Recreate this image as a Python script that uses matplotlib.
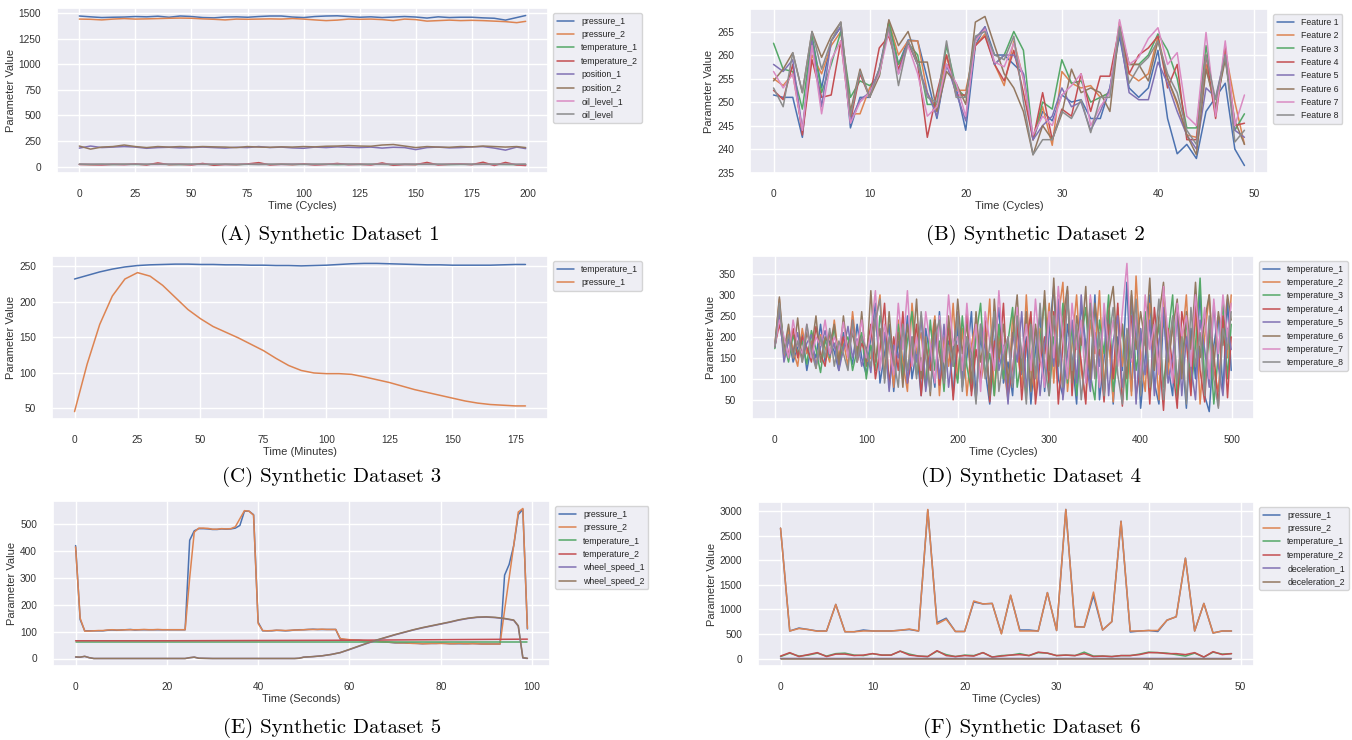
import matplotlib
matplotlib.use("Agg")
import matplotlib.pyplot as plt
import seaborn as sns

# ---- data ----

# (A) synthetic dataset 1, sampled every 5 cycles
a_x = list(range(0, 200, 5)) + [199]
a_pressure_1 = [1470, 1462, 1455, 1458, 1460, 1465, 1462, 1468, 1458, 1470,
                1465, 1455, 1452, 1460, 1462, 1458, 1465, 1470, 1470, 1460,
                1455, 1465, 1470, 1472, 1465, 1458, 1462, 1455, 1460, 1465,
                1460, 1450, 1462, 1455, 1458, 1458, 1452, 1448, 1430, 1455, 1475]
a_pressure_2 = [1440, 1438, 1432, 1440, 1445, 1440, 1442, 1445, 1448, 1450,
                1448, 1442, 1438, 1432, 1440, 1438, 1440, 1442, 1440, 1445,
                1440, 1432, 1425, 1430, 1440, 1438, 1440, 1435, 1425, 1440,
                1435, 1420, 1425, 1430, 1425, 1428, 1425, 1420, 1415, 1405, 1418]
a_temperature_1 = [22, 20, 21, 19, 22, 20, 21, 23, 20, 19, 21, 22, 20, 21, 19, 22, 20, 21, 22, 20,
                   21, 20, 22, 19, 21, 20, 22, 21, 19, 20, 21, 22, 20, 19, 21, 20, 22, 21, 20, 19, 20]
a_temperature_2 = [20, 18, 15, 22, 18, 25, 15, 35, 18, 22, 15, 30, 12, 20, 18, 25, 38, 15, 22, 18,
                   25, 15, 20, 30, 18, 22, 15, 35, 12, 20, 18, 40, 15, 22, 25, 18, 42, 10, 40, 15, 10]
a_position_1 = [180, 200, 185, 190, 195, 190, 178, 185, 188, 182, 185, 190, 185, 180, 188, 185,
                195, 185, 190, 182, 178, 190, 185, 192, 188, 185, 190, 180, 188, 185, 165, 185,
                190, 182, 185, 192, 195, 180, 160, 190, 175]
a_position_2 = [200, 170, 190, 195, 210, 195, 185, 195, 190, 195, 190, 195, 192, 190, 185, 195,
                190, 188, 192, 190, 195, 192, 198, 200, 205, 200, 198, 210, 215, 200, 185, 195,
                190, 188, 195, 192, 200, 195, 190, 195, 185]
a_oil_level_1 = [21, 22, 20, 21, 20, 22, 21, 20, 22, 21, 20, 21, 22, 20, 21, 22, 20, 21, 20, 22,
                 21, 20, 21, 22, 20, 21, 20, 22, 21, 20, 22, 21, 20, 21, 22, 20, 21, 20, 22, 21, 20]
a_oil_level = [23, 22, 23, 22, 22, 23, 22, 22, 23, 22, 23, 22, 22, 23, 22, 22, 23, 22, 22, 23,
               22, 23, 22, 22, 23, 22, 22, 23, 22, 23, 22, 22, 23, 22, 22, 23, 22, 23, 22, 22, 23]
a_labels = ["pressure_1", "pressure_2", "temperature_1", "temperature_2",
            "position_1", "position_2", "oil_level_1", "oil_level"]

# (B) synthetic dataset 2
b_x = list(range(50))
b_feature_1 = [251.5, 251, 251, 242.5, 264, 253, 263, 266, 244.5, 251, 251, 257, 267, 258, 263.2,
               263, 255, 246.5, 258, 253, 244, 262, 266, 260, 260, 258, 256, 242, 248, 246,
               251.5, 250, 250.5, 246.5, 246.5, 253, 264, 253, 251, 253, 261, 246.5, 239, 241, 238,
               248, 251, 254, 240, 236.5]
b_feature_2 = [255, 253.5, 256, 244, 260, 256, 262, 265, 247.5, 247.5, 253, 256, 267, 260, 263,
               263, 252, 248, 260, 252.5, 252.5, 262, 264.5, 258, 253.5, 263, 255, 242, 249, 240.8,
               256.5, 254, 253, 253.5, 251, 252, 267, 256, 254.5, 256, 264, 255, 249.5, 243, 242.5,
               258, 248, 261, 250, 241]
b_feature_3 = [262.5, 257, 256.5, 248.5, 264, 252, 258, 265, 251, 254.5, 253.5, 255.5, 267, 258, 262.5,
               260, 249.5, 249.5, 262, 253, 251, 263, 265.5, 258, 260, 265, 261, 242, 250, 248.5,
               259, 254, 254.5, 250, 251, 252, 266, 258, 258, 260, 264.5, 261, 255, 244.5, 244.5,
               262, 248.5, 260, 244, 247.5]
b_feature_4 = [252.5, 250.5, 258, 243, 259, 251, 251.5, 263, 246, 256, 251, 261.5, 264, 257, 262.5,
               258, 242.5, 252, 260, 251.5, 251.5, 262, 264, 258, 254.5, 261, 252, 242, 252, 242,
               248.5, 247, 256, 248, 255.5, 255.5, 266, 256, 260, 261.5, 264, 253, 258, 242, 242,
               260, 246.5, 262, 245, 245.5]
b_feature_5 = [258, 256.5, 259, 244, 263, 249, 263, 266, 246, 250.5, 252, 257, 265.5, 256, 263,
               258, 252, 247, 258, 252, 246, 263.5, 266, 258, 260, 260, 256, 242, 245, 247,
               253, 249, 250, 244, 248, 253, 265, 252, 250.5, 250.5, 258.5, 254, 248, 243, 240,
               253, 251, 260, 244, 242.5]
b_feature_6 = [254.5, 257, 260.5, 252, 265, 259.5, 264, 267, 248, 257, 251, 255.5, 267.5, 262, 265,
               258.5, 258.5, 248, 256.5, 254, 249.5, 267, 268.2, 262, 256, 253, 248, 238.8, 245, 242,
               247.5, 257, 252, 253, 252, 248, 266, 258, 258, 254.5, 263, 255, 250, 243, 238.8,
               257, 249, 259, 246, 241]
b_feature_7 = [256.5, 253, 256, 244, 262, 247.5, 259, 263, 245.5, 250, 252, 256, 265, 256, 262,
               256, 247, 249, 258, 254, 247, 263, 265.5, 258.5, 257.5, 262.5, 255, 243, 247, 245,
               251.5, 253.5, 256, 245, 249, 252, 267.5, 258, 259.5, 263.5, 265.8, 258, 260.5, 247, 245,
               264.8, 247, 263, 245, 251.5]
b_feature_8 = [253, 249, 260.5, 252, 265, 257, 263, 267, 247, 256.5, 251, 257, 266, 253.5, 263,
               258, 251, 250, 263, 251, 251, 264, 265, 260, 259, 264, 250, 238.8, 242, 242,
               248, 246.5, 250.5, 243.5, 251, 251, 266, 254, 257.5, 259.5, 263, 256, 252, 244, 241,
               260, 250.5, 260, 241.5, 244]
b_labels = ["Feature %d" % i for i in range(1, 9)]

# (C) synthetic dataset 3, sampled every 5 minutes
c_x = list(range(0, 180, 5)) + [179]
c_temperature_1 = [232, 237, 242, 246, 249, 251, 252, 252.5, 253, 253, 252.5, 252.5, 252, 252,
                   251.5, 251.5, 251, 251, 250.5, 251, 251.5, 252.5, 253.5, 254, 254, 253.5,
                   253, 252.5, 252, 252, 251.5, 251.5, 251.5, 251.5, 252, 252.5, 252.5]
c_pressure_1 = [45, 112, 168, 208, 232, 241, 236, 223, 206, 189, 176, 165, 157, 149, 140, 131,
                120, 110, 103, 99.5, 98.5, 98.5, 97.5, 94, 90, 86, 81, 76, 72, 68, 64, 60, 57,
                55, 54, 53, 53]
c_labels = ["temperature_1", "pressure_1"]

# (D) synthetic dataset 4, sampled every 5 cycles
d_x = list(range(0, 500, 5)) + [499]
d_temperature_1 = [175, 250, 160, 200, 140, 175, 205, 120, 180, 150, 230, 140, 190, 165, 120, 210, 175,
                   135, 230, 150, 110,
                   200, 280, 90, 160, 230, 70, 190, 120, 250, 100, 170, 60, 220, 150, 80, 260, 110,
                   190, 60, 230,
                   80, 150, 260, 50, 200, 120, 40, 180, 270, 90, 140, 60, 240, 110, 200, 40, 170,
                   250, 70, 210,
                   320, 100, 60, 230, 150, 40, 280, 180, 90, 300, 50, 150, 260, 40, 200, 120, 330,
                   70, 240, 30,
                   150, 300, 90, 40, 250, 130, 60, 280, 170, 30, 220, 100, 310, 60, 22, 180, 250,
                   70, 290, 120]
d_temperature_2 = [180, 290, 150, 215, 170, 130, 220, 160, 190, 125, 205, 175, 140, 240, 150, 190, 130,
                   260, 160, 200, 140,
                   150, 230, 300, 110, 190, 80, 240, 140, 70, 280, 160, 210, 90, 170, 250, 60, 200,
                   130, 280, 100,
                   220, 60, 180, 240, 90, 150, 290, 60, 200, 130, 50, 250, 170, 80, 300, 120, 60,
                   220, 160, 280,
                   90, 250, 330, 70, 180, 300, 120, 50, 240, 160, 310, 80, 200, 45, 270, 130, 210,
                   60, 345, 150,
                   70, 280, 200, 50, 320, 110, 240, 60, 180, 300, 90, 260, 40, 200, 300, 120, 70,
                   240, 150, 300]
d_temperature_3 = [172, 270, 185, 140, 205, 160, 190, 135, 215, 170, 115, 195, 150, 225, 130, 180, 200,
                   120, 170, 210, 100,
                   180, 120, 250, 200, 90, 170, 230, 100, 190, 260, 110, 150, 80, 240, 120, 190, 70,
                   230, 150, 90,
                   250, 130, 70, 200, 280, 110, 160, 60, 230, 100, 190, 270, 80, 150, 60, 240, 110,
                   190, 290, 60,
                   200, 140, 280, 90, 230, 60, 190, 270, 110, 50, 240, 160, 300, 70, 150, 230, 50,
                   290, 120, 190,
                   260, 60, 150, 230, 80, 200, 300, 50, 140, 240, 70, 180, 340, 90, 210, 40, 160,
                   280, 100, 230]
d_temperature_4 = [178, 230, 175, 160, 220, 150, 200, 175, 140, 225, 160, 130, 210, 180, 145, 200, 160,
                   240, 140, 185, 160,
                   230, 100, 170, 280, 80, 200, 120, 260, 90, 150, 230, 60, 180, 120, 240, 85, 160,
                   220, 50, 180,
                   130, 260, 60, 170, 100, 240, 45, 190, 140, 280, 60, 120, 230, 50, 180, 260, 40,
                   140, 200, 90,
                   260, 40, 180, 310, 60, 220, 140, 40, 290, 110, 170, 45, 230, 100, 280, 35, 190,
                   250, 60, 130,
                   210, 40, 270, 160, 25, 220, 130, 30, 260, 190, 60, 290, 120, 45, 230, 160, 35,
                   250, 55, 200]
d_temperature_5 = [176, 260, 140, 190, 165, 210, 145, 185, 205, 130, 175, 215, 155, 185, 120, 170, 225,
                   150, 195, 130, 175,
                   115, 260, 130, 210, 70, 180, 150, 220, 90, 200, 140, 250, 70, 160, 210, 100, 230,
                   80, 170, 260,
                   100, 200, 140, 50, 230, 170, 80, 250, 120, 180, 40, 210, 140, 260, 80, 150, 220,
                   60, 180, 250,
                   130, 290, 50, 160, 240, 90, 300, 150, 70, 210, 130, 260, 60, 190, 250, 80, 160,
                   300, 40, 220,
                   110, 240, 60, 190, 270, 90, 150, 250, 60, 200, 130, 50, 240, 170, 80, 280, 130,
                   60, 220, 170]
d_temperature_6 = [178, 295, 165, 230, 150, 245, 140, 210, 170, 250, 140, 200, 180, 230, 135, 250, 160,
                   210, 145, 260, 130,
                   310, 140, 220, 100, 260, 130, 210, 80, 230, 150, 290, 100, 200, 60, 240, 160, 90,
                   250, 130, 290,
                   160, 230, 90, 260, 140, 210, 60, 290, 150, 230, 90, 200, 300, 120, 260, 70, 230,
                   140, 310, 120,
                   340, 130, 240, 320, 90, 250, 180, 320, 100, 280, 190, 60, 260, 320, 150, 230, 100,
                   310, 170, 260,
                   180, 340, 120, 250, 330, 140, 220, 290, 100, 260, 170, 330, 150, 240, 300, 130, 260,
                   180, 300, 240]
d_temperature_7 = [180, 240, 200, 150, 240, 180, 160, 230, 150, 200, 180, 240, 160, 200, 170, 235, 150,
                   220, 180, 240, 150,
                   210, 310, 120, 230, 180, 110, 280, 170, 310, 130, 200, 120, 260, 180, 90, 250, 140,
                   300, 180, 200,
                   120, 280, 150, 230, 70, 260, 190, 120, 310, 160, 200, 90, 270, 150, 230, 120, 290,
                   160, 80, 260,
                   150, 320, 200, 100, 280, 170, 240, 90, 300, 200, 80, 280, 170, 240, 130, 260, 375,
                   140, 250, 100,
                   300, 170, 230, 110, 320, 200, 90, 280, 200, 250, 130, 300, 180, 270, 100, 290, 160,
                   300, 200, 280]
d_temperature_8 = [175, 280, 160, 205, 150, 190, 140, 230, 165, 125, 200, 150, 220, 130, 190, 160, 120,
                   240, 140, 200, 170,
                   130, 240, 290, 90, 200, 150, 80, 230, 120, 200, 100, 260, 150, 70, 200, 240, 90,
                   180, 130, 250,
                   70, 200, 160, 40, 230, 100, 180, 260, 70, 150, 200, 80, 250, 160, 40, 230, 100,
                   280, 130, 60,
                   250, 170, 80, 300, 120, 230, 50, 160, 280, 100, 210, 60, 190, 270, 110, 40, 220,
                   150, 290, 60,
                   240, 80, 180, 290, 50, 160, 250, 90, 200, 40, 270, 130, 210, 60, 250, 100, 30,
                   220, 170, 260]
d_labels = ["temperature_%d" % i for i in range(1, 9)]

# (E) synthetic dataset 5
e_x = list(range(100))
e_pressure_1 = [420, 145, 103, 103, 103, 103, 103, 105, 106, 105, 106, 107, 108, 106, 107, 107, 107,
                107, 107, 107, 107, 107, 107, 107, 107, 440, 475, 483, 483, 482, 480, 480, 482, 481,
                482, 485, 495, 548, 548, 535, 135, 103, 103, 103, 105, 104, 103, 104, 106, 107, 107,
                108, 109, 108, 108, 108, 108, 108, 72, 70, 69, 68, 68, 66, 66, 65, 64, 63, 62, 60,
                58, 58, 58, 57, 57, 56, 55, 56, 56, 56, 57, 56, 55, 55, 55, 55, 55, 56, 55, 54, 54,
                54, 54, 54, 310, 350, 420, 535, 555, 110]
e_pressure_2 = [415, 150, 102, 102, 103, 104, 104, 106, 107, 106, 106, 107, 107, 107, 107, 108, 107,
                107, 108, 107, 107, 107, 107, 107, 107, 300, 470, 485, 485, 484, 481, 481, 483, 482,
                483, 490, 520, 550, 548, 533, 130, 104, 103, 104, 105, 105, 104, 105, 106, 106, 107,
                108, 108, 108, 109, 108, 108, 108, 74, 72, 70, 69, 68, 67, 66, 65, 64, 62, 61, 60,
                59, 58, 58, 57, 56, 56, 55, 55, 56, 56, 56, 56, 55, 55, 56, 55, 55, 55, 55, 54, 54,
                54, 54, 54, 180, 300, 420, 545, 558, 112]
e_temp_x = [0, 20, 40, 60, 80, 99]
e_temperature_1 = [63, 63, 63, 63, 63, 63]
e_temperature_2 = [66, 66, 67, 68, 70, 72]
e_wheel_x = [0, 1, 2, 3, 4, 10, 20, 24, 25, 26, 27, 30, 40, 48, 49, 50, 52, 54, 56, 58, 60, 62,
             64, 66, 68, 70, 72, 74, 76, 78, 80, 82, 84, 86, 88, 90, 92, 94, 95, 96, 97, 98, 99]
e_wheel_speed_1 = [5, 5, 8, 3, 0, 0, 0, 0, 3, 5, 1, 0, 0, 0, 1, 5, 7, 10, 15, 22, 33, 45, 57, 68,
                   78, 88, 97, 106, 114, 121, 128, 135, 143, 149, 153, 154, 152, 148, 145, 142, 120, 2, 0]
e_wheel_speed_2 = [6, 5, 8, 3, 0, 0, 0, 0, 3, 5, 1, 0, 0, 0, 1, 5, 7, 10, 15, 22, 34, 46, 58, 69,
                   79, 89, 98, 107, 115, 122, 129, 136, 144, 150, 154, 155, 153, 149, 146, 143, 122, 3, 1]
e_labels = ["pressure_1", "pressure_2", "temperature_1", "temperature_2", "wheel_speed_1", "wheel_speed_2"]

# (F) synthetic dataset 6
f_x = list(range(50))
f_pressure_1 = [2650, 560, 620, 590, 560, 560, 1100, 545, 545, 580, 560, 560, 560, 575, 590, 560, 3020,
                730, 820, 550, 550, 1150, 1110, 1120, 510, 1280, 580, 580, 560, 1340, 570, 3030, 650,
                640, 1280, 580, 750, 2790, 540, 560, 570, 550, 780, 850, 2040, 560, 1120, 520, 560, 560]
f_pressure_2 = [2650, 560, 610, 590, 555, 560, 1100, 545, 545, 560, 560, 560, 560, 575, 600, 560, 3030,
                700, 800, 550, 550, 1170, 1110, 1120, 500, 1290, 560, 560, 560, 1340, 570, 3030, 640,
                640, 1350, 580, 750, 2790, 560, 560, 570, 570, 780, 850, 2040, 560, 1120, 520, 560, 560]
f_temperature_1 = [40, 110, 50, 70, 110, 50, 100, 110, 70, 60, 100, 70, 70, 150, 90, 50, 40, 150, 80,
                   40, 70, 60, 120, 30, 60, 70, 100, 60, 120, 110, 60, 70, 60, 130, 50, 50, 40, 60, 60,
                   90, 130, 120, 110, 80, 50, 110, 30, 130, 90, 100]
f_temperature_2 = [50, 120, 40, 80, 120, 40, 90, 90, 60, 70, 100, 70, 70, 150, 70, 50, 40, 160, 60, 40,
                   60, 50, 120, 30, 50, 70, 80, 60, 130, 110, 60, 70, 60, 100, 40, 50, 40, 60, 60, 80,
                   120, 120, 100, 100, 80, 120, 30, 140, 80, 100]
f_decel_x = [0, 10, 20, 30, 40, 49]
f_deceleration_1 = [2, 1, 2, 1, 2, 1]
f_deceleration_2 = [0, 0, 0, 0, 0, 0]
f_labels = ["pressure_1", "pressure_2", "temperature_1", "temperature_2", "deceleration_1", "deceleration_2"]

captions = ["(A) Synthetic Dataset 1", "(B) Synthetic Dataset 2", "(C) Synthetic Dataset 3",
            "(D) Synthetic Dataset 4", "(E) Synthetic Dataset 5", "(F) Synthetic Dataset 6"]
xlabels = ["Time (Cycles)", "Time (Cycles)", "Time (Minutes)",
           "Time (Cycles)", "Time (Seconds)", "Time (Cycles)"]

# ---- drawing ----

W, H = 1352, 740

sns.set_theme(style="darkgrid")
plt.rcParams["font.family"] = ["Liberation Sans", "DejaVu Sans"]
palette = sns.color_palette("deep")


def px_axes(fig, left, top, right, bottom):
    return fig.add_axes([left / W, 1 - bottom / H, (right - left) / W, (bottom - top) / H])


def draw_panel(ax, series, xlabel):
    for i, (xs, ys, label) in enumerate(series):
        ax.plot(xs, ys, color=palette[i], lw=1.1, label=label)
    ax.set_xlabel(xlabel, fontsize=8, labelpad=1.5, color="#333333")
    ax.set_ylabel("Parameter Value", fontsize=8, labelpad=2, color="#333333")
    ax.tick_params(labelsize=7.3, pad=5.5, colors="#333333")
    ax.grid(color="white", lw=1.0)
    ax.legend(loc="upper left", bbox_to_anchor=(1.0, 1.0), fontsize=6.3,
              borderaxespad=0.6, handlelength=2.0, labelspacing=0.5)


fig = plt.figure(figsize=(W / 100, H / 100), dpi=100)

ax_a = px_axes(fig, 57, 8, 548, 173)
draw_panel(ax_a, [(a_x, a_pressure_1, a_labels[0]), (a_x, a_pressure_2, a_labels[1]),
                  (a_x, a_temperature_1, a_labels[2]), (a_x, a_temperature_2, a_labels[3]),
                  (a_x, a_position_1, a_labels[4]), (a_x, a_position_2, a_labels[5]),
                  (a_x, a_oil_level_1, a_labels[6]), (a_x, a_oil_level, a_labels[7])], xlabels[0])

ax_b = px_axes(fig, 750, 9, 1268, 173)
b_all = [b_feature_1, b_feature_2, b_feature_3, b_feature_4,
         b_feature_5, b_feature_6, b_feature_7, b_feature_8]
draw_panel(ax_b, [(b_x, ys, lab) for ys, lab in zip(b_all, b_labels)], xlabels[1])

ax_c = px_axes(fig, 52, 256, 548, 419)
draw_panel(ax_c, [(c_x, c_temperature_1, c_labels[0]), (c_x, c_pressure_1, c_labels[1])], xlabels[2])

ax_d = px_axes(fig, 752, 256, 1254, 419)
d_all = [d_temperature_1, d_temperature_2, d_temperature_3, d_temperature_4,
         d_temperature_5, d_temperature_6, d_temperature_7, d_temperature_8]
draw_panel(ax_d, [(d_x, ys, lab) for ys, lab in zip(d_all, d_labels)], xlabels[3])

ax_e = px_axes(fig, 53, 501, 550, 666)
draw_panel(ax_e, [(e_x, e_pressure_1, e_labels[0]), (e_x, e_pressure_2, e_labels[1]),
                  (e_temp_x, e_temperature_1, e_labels[2]), (e_temp_x, e_temperature_2, e_labels[3]),
                  (e_wheel_x, e_wheel_speed_1, e_labels[4]), (e_wheel_x, e_wheel_speed_2, e_labels[5])],
           xlabels[4])

ax_f = px_axes(fig, 758, 502, 1254, 666)
draw_panel(ax_f, [(f_x, f_pressure_1, f_labels[0]), (f_x, f_pressure_2, f_labels[1]),
                  (f_x, f_temperature_1, f_labels[2]), (f_x, f_temperature_2, f_labels[3]),
                  (f_decel_x, f_deceleration_1, f_labels[4]), (f_decel_x, f_deceleration_2, f_labels[5])],
           xlabels[5])

# sub-captions, LaTeX look
caption_pos = [(330, 235), (1035, 235), (332, 477), (1031, 477), (332, 728), (1032, 728)]
for text, (cx, cy) in zip(captions, caption_pos):
    fig.text(cx / W, 1 - cy / H, text, family="cmr10", fontsize=15,
             ha="center", va="center", color="black")

fig.savefig("out.png", dpi=100, facecolor="white")
